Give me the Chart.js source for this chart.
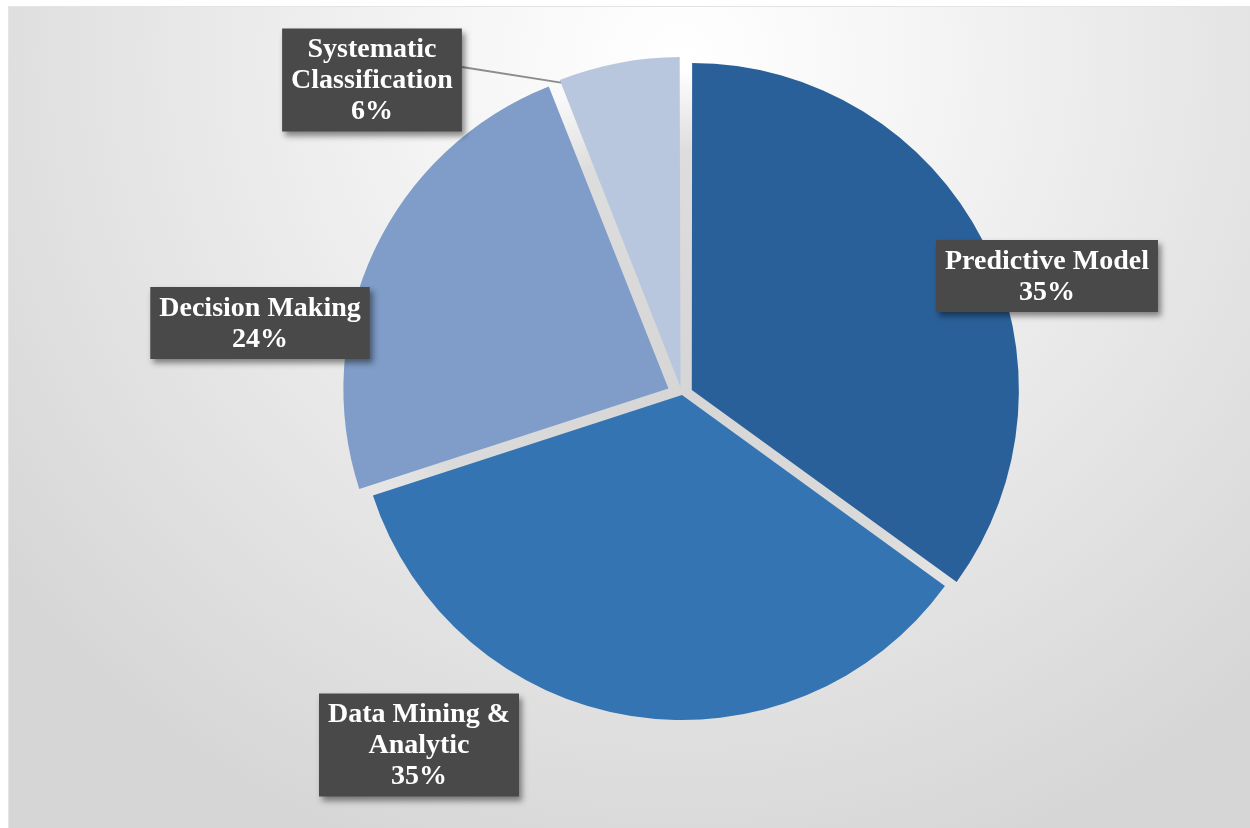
<!DOCTYPE html>
<html>
<head>
<meta charset="utf-8">
<script src="https://cdn.jsdelivr.net/npm/chart.js@4.4.1/dist/chart.umd.min.js"></script>
<style>
  body { margin: 0; background: #fff; }
  canvas { display: block; }
</style>
</head>
<body>
<canvas id="pieChart" width="1250" height="828"></canvas>
<script>
const categories = ['Predictive Model', 'Data Mining & Analytic', 'Decision Making', 'Systematic Classification'];
const shares = [35, 35, 24, 6];
const labelLines = [['Predictive Model'], ['Data Mining &', 'Analytic'], ['Decision Making'], ['Systematic', 'Classification']];

const sliceColors = ['#2a6099', '#3474b3', '#7f9dc8', '#b9c7de'];
const explode = [44, 0, 60, 32];
// label boxes were dragged by hand in the original, these are their centres
const labelCenters = [[1047, 276], [419, 745], [260, 323], [372, 80]];

const total = shares.reduce((a, b) => a + b, 0);

const backdrop = {
    id: 'backdrop',
    beforeDraw(chart) {
        const ctx = chart.ctx;
        ctx.save();
        ctx.fillStyle = '#ffffff';
        ctx.fillRect(0, 0, chart.width, chart.height);
        const g = ctx.createRadialGradient(680, 60, 0, 680, 60, 850);
        g.addColorStop(0, '#ffffff');
        g.addColorStop(0.25, '#f6f6f6');
        g.addColorStop(1, '#d6d6d6');
        ctx.fillStyle = g;
        ctx.fillRect(8, 6, chart.width - 8, chart.height - 6);
        ctx.strokeStyle = '#e4e4e4';
        ctx.lineWidth = 1;
        ctx.beginPath();
        ctx.moveTo(8, 6.5);
        ctx.lineTo(chart.width, 6.5);
        ctx.moveTo(8.5, 6);
        ctx.lineTo(8.5, chart.height);
        ctx.stroke();
        ctx.restore();
    },
    beforeDatasetsDraw(chart) {
        // grey showing through the gaps between exploded slices, fading out at the rim
        const arc = chart.getDatasetMeta(0).data[0];
        const ctx = chart.ctx;
        const r = arc.outerRadius;
        const g = ctx.createRadialGradient(arc.x, arc.y, 0, arc.x, arc.y, r);
        g.addColorStop(0, 'rgba(214,214,214,1)');
        g.addColorStop(0.75, 'rgba(216,216,216,0.85)');
        g.addColorStop(1, 'rgba(220,220,220,0)');
        ctx.save();
        ctx.fillStyle = g;
        ctx.beginPath();
        ctx.arc(arc.x, arc.y, r, 0, Math.PI * 2);
        ctx.fill();
        ctx.restore();
    }
};

const boxLabels = {
    id: 'boxLabels',
    afterDatasetsDraw(chart) {
        const ctx = chart.ctx;
        const arcs = chart.getDatasetMeta(0).data;
        ctx.save();
        ctx.font = 'bold 28px "Liberation Serif"';
        ctx.textAlign = 'center';
        ctx.textBaseline = 'middle';
        const lineH = 31;

        arcs.forEach((arc, i) => {
            const lines = labelLines[i].concat([Math.round(shares[i] / total * 100) + '%']);
            const [cx, cy] = labelCenters[i];
            const w = Math.max(...lines.map(l => ctx.measureText(l).width)) + 18;
            const h = lines.length * lineH + 10;
            const x0 = cx - w / 2, y0 = cy - h / 2;

            // leader line for the small slice
            if (i === 3) {
                const t = (explode[i] || 0) / 4;
                const mid = (arc.startAngle + arc.endAngle) / 2;
                const a = arc.startAngle + 0.02;
                const ex = arc.x + Math.cos(mid) * t + Math.cos(a) * arc.outerRadius;
                const ey = arc.y + Math.sin(mid) * t + Math.sin(a) * arc.outerRadius;
                ctx.strokeStyle = '#8c8c8c';
                ctx.lineWidth = 2;
                ctx.beginPath();
                ctx.moveTo(x0 + w, cy - 13);
                ctx.lineTo(ex - 6, ey);
                ctx.stroke();
            }

            ctx.shadowColor = 'rgba(0,0,0,0.45)';
            ctx.shadowBlur = 6;
            ctx.shadowOffsetX = 3;
            ctx.shadowOffsetY = 4;
            ctx.fillStyle = '#494949';
            ctx.fillRect(x0, y0, w, h);
            ctx.shadowColor = 'transparent';

            ctx.fillStyle = '#ffffff';
            lines.forEach((l, k) => {
                ctx.fillText(l, cx, y0 + 5 + lineH * (k + 0.5) + 1);
            });
        });
        ctx.restore();
    }
};

new Chart(document.getElementById('pieChart'), {
    type: 'pie',
    data: {
        labels: categories,
        datasets: [{
            data: shares,
            backgroundColor: sliceColors,
            borderWidth: 0,
            offset: explode
        }]
    },
    options: {
        responsive: false,
        animation: false,
        radius: 325,
        layout: { padding: { left: 114, right: 0, top: 0, bottom: 38 } },
        plugins: {
            legend: { display: false },
            tooltip: { enabled: false }
        }
    },
    plugins: [backdrop, boxLabels]
});
</script>
</body>
</html>
